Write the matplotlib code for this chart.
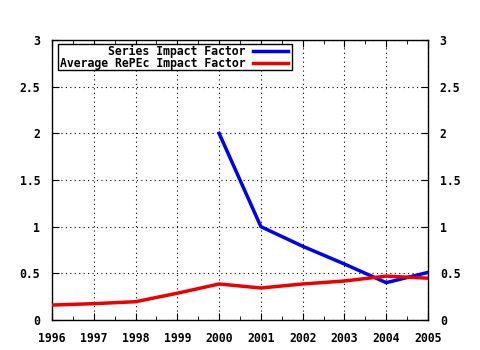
import matplotlib
matplotlib.use('Agg')
import matplotlib.pyplot as plt
from matplotlib.patches import Rectangle
from matplotlib.lines import Line2D

years_series = [2000, 2001, 2002, 2003, 2004, 2005]
series_if = [2.0, 1.0, 0.79, 0.6, 0.4, 0.51]

years_avg = [1996, 1997, 1998, 1999, 2000, 2001, 2002, 2003, 2004, 2005]
avg_if = [0.16, 0.175, 0.196, 0.287, 0.386, 0.343, 0.386, 0.418, 0.47, 0.448]

labels = ['Series Impact Factor', 'Average RePEc Impact Factor']
colors = ['#0000ee', '#ee0000']

plt.rcParams['font.family'] = 'DejaVu Sans Mono'
plt.rcParams['font.weight'] = 'bold'
plt.rcParams['font.size'] = 8.3

fig = plt.figure(figsize=(4.8, 3.5), dpi=100)
ax = fig.add_axes([52 / 480, 30 / 350, 376 / 480, 280 / 350])

ax.plot(years_series, series_if, color=colors[0], lw=2.5, zorder=3)
ax.plot(years_avg, avg_if, color=colors[1], lw=2.5, zorder=3)

ax.set_xlim(1996, 2005)
ax.set_ylim(0, 3)
ax.set_xticks(range(1996, 2006))
ax.set_yticks([0, 0.5, 1, 1.5, 2, 2.5, 3])
ax.set_yticklabels(['0', '0.5', '1', '1.5', '2', '2.5', '3'])
ax.set_xticks([y + 0.5 for y in range(1996, 2005)], minor=True)
ax.tick_params(which='both', direction='in', top=True, right=True)
ax.tick_params(axis='x', which='major', pad=9)
ax.tick_params(axis='y', which='major', labelright=True, pad=8.5)
ax.tick_params(which='major', length=5)
ax.tick_params(which='minor', length=3)
ax.grid(True, which='major', color='black', linestyle=(0, (1, 3)), lw=0.8)
for s in ax.spines.values():
    s.set_linewidth(1)

# legend box, gnuplot style (text right-aligned, sample line on the right)
ax.add_patch(Rectangle((6 / 376, 1 - 30 / 280), 234 / 376, 26 / 280,
                       transform=ax.transAxes, facecolor='white',
                       edgecolor='black', lw=1, zorder=4))
for i, (lab, c) in enumerate(zip(labels, colors)):
    yy = 1 - (11 + 12 * i) / 280
    ax.text(194 / 376, yy, lab, transform=ax.transAxes, ha='right',
            va='center', zorder=5)
    ax.add_line(Line2D([201 / 376, 236 / 376], [yy, yy], color=c, lw=2.5,
                       transform=ax.transAxes, zorder=5))

fig.savefig('out.png', dpi=100)
